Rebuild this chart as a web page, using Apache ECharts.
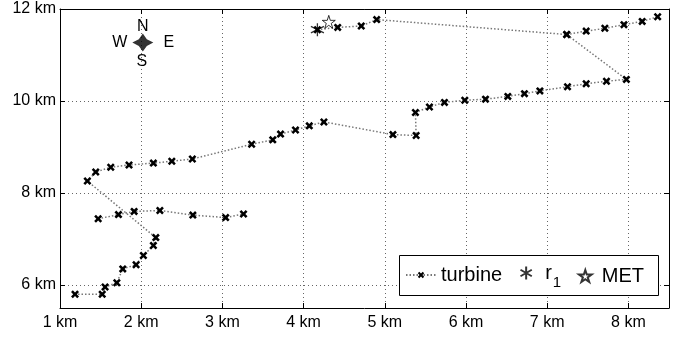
<!DOCTYPE html>
<html>
<head>
<meta charset="utf-8">
<script src="https://cdn.jsdelivr.net/npm/echarts@6/dist/echarts.min.js"></script>
<style>
  html, body { margin: 0; padding: 0; background: #fff; }
  #chart { width: 684px; height: 337px; }
</style>
</head>
<body>
<div id="chart"></div>
<script>
// Turbine strings, [x km, y km], in cabling order
const mainString = [
  [4.17, 11.55], [4.42, 11.60], [4.71, 11.63], [4.90, 11.77],
  [7.24, 11.445], [7.975, 10.47], [7.73, 10.43], [7.48, 10.375],
  [7.25, 10.31], [6.91, 10.22], [6.72, 10.16], [6.515, 10.10],
  [6.24, 10.04], [5.985, 10.015], [5.735, 9.97], [5.55, 9.87],
  [5.377, 9.75], [5.386, 9.25], [5.10, 9.27], [4.25, 9.545],
  [4.07, 9.46], [3.90, 9.37], [3.716, 9.28], [3.62, 9.155],
  [3.36, 9.06], [2.63, 8.74], [2.377, 8.69], [2.15, 8.65],
  [1.85, 8.61], [1.625, 8.56], [1.44, 8.455], [1.337, 8.26],
  [2.18, 7.03], [2.15, 6.86], [2.027, 6.64], [1.937, 6.44],
  [1.773, 6.35], [1.70, 6.05], [1.555, 5.955], [1.52, 5.80],
  [1.185, 5.80]
];
const northEastString = [
  [7.24, 11.445], [7.48, 11.52], [7.71, 11.58], [7.945, 11.66],
  [8.17, 11.73], [8.36, 11.83]
];
const middleString = [
  [1.47, 7.44], [1.72, 7.53], [1.913, 7.60], [2.23, 7.62],
  [2.636, 7.52], [3.04, 7.465], [3.26, 7.545]
];
const r1Point = [[4.17, 11.55]];
const metPoint = [[4.31, 11.72]];
const compassCenter = [2.02, 11.27];

const xTicks = [1, 2, 3, 4, 5, 6, 7, 8];
const yTicks = [6, 8, 10, 12];
const xRange = [1, 8.5];
const yRange = [5.5, 12];

// strings joined into one series, separated by gaps
const turbineData = [...mainString, '-', ...northEastString, '-', ...middleString];

const FONT = 'Liberation Sans, Arial, Helvetica, sans-serif';
const crossPath = 'path://M-1,-0.55L-0.55,-1L0,-0.45L0.55,-1L1,-0.55L0.45,0L1,0.55L0.55,1L0,0.45L-0.55,1L-1,0.55L-0.45,0Z';
const asteriskPath = 'path://M0,-1L0,1M-0.87,-0.5L0.87,0.5M-0.87,0.5L0.87,-0.5';
const starPath = 'path://M0,-1L0.2245,-0.309L0.951,-0.309L0.363,0.118L0.588,0.809L0,0.382L-0.588,0.809L-0.363,0.118L-0.951,-0.309L-0.2245,-0.309Z';

const kmLabel = v => v + ' km';

function mainAxis(pos, range, ticks, showLabels) {
  return {
    type: 'value',
    position: pos,
    min: range[0],
    max: range[1],
    axisLine: { show: true, onZero: false, lineStyle: { color: '#000', width: 1 } },
    axisTick: { show: true, inside: true, length: 5, customValues: ticks, lineStyle: { color: '#000' } },
    axisLabel: {
      show: showLabels, customValues: ticks, formatter: kmLabel,
      color: '#000', fontFamily: FONT, fontSize: 16, margin: pos === 'bottom' ? 7 : 4
    },
    splitLine: showLabels ? { show: true, lineStyle: { color: '#666', width: 1, type: [1, 3] } } : { show: false }
  };
}

// one legend entry, placed inside the shared legend frame
function legendEntry(name, left, top, itemWidth, itemHeight, extra) {
  return Object.assign({
    data: [name], left, top, padding: 0,
    itemWidth, itemHeight, z: 12,
    textStyle: { fontFamily: FONT, fontSize: 20, color: '#000' }
  }, extra || {});
}

const chart = echarts.init(document.getElementById('chart'));
chart.setOption({
  animation: false,
  backgroundColor: '#fff',
  grid: { left: 60, right: 15, top: 9, bottom: 29 },
  xAxis: [mainAxis('bottom', xRange, xTicks, true), mainAxis('top', xRange, xTicks, false)],
  yAxis: [mainAxis('left', yRange, yTicks, true), mainAxis('right', yRange, yTicks, false)],
  legend: [
    legendEntry('turbine', 405, 265, 30, 8),
    legendEntry('r1', 518, 263, 28, 13, {
      formatter: () => '{r|r}{s|1}',
      textStyle: {
        fontFamily: FONT, fontSize: 20, color: '#000',
        rich: {
          r: { fontFamily: FONT, fontSize: 20, color: '#000' },
          s: { fontFamily: FONT, fontSize: 15, color: '#000', padding: [20, 0, 0, 1] }
        }
      }
    }),
    legendEntry('MET', 578, 266, 23, 12)
  ],
  series: [
    {
      name: 'turbine', type: 'line', data: turbineData,
      connectNulls: false,
      symbol: crossPath, symbolSize: 8, showAllSymbol: true,
      itemStyle: { color: '#000' },
      lineStyle: { color: '#777', width: 1.5, type: [1.5, 2] },
      z: 3
    },
    {
      name: 'r1', type: 'scatter', data: r1Point,
      symbol: asteriskPath, symbolSize: 13,
      itemStyle: { color: 'none', borderColor: '#000', borderWidth: 1.3 },
      z: 4
    },
    {
      name: 'MET', type: 'scatter', data: metPoint,
      symbol: starPath, symbolSize: 13,
      itemStyle: { color: '#fff', borderColor: '#000', borderWidth: 1 },
      z: 4
    },
    {
      name: 'compass', type: 'scatter', data: [compassCenter],
      symbol: 'path://M0,-1L0.38,-0.38L1,0L0.38,0.38L0,1L-0.38,0.38L-1,0L-0.38,-0.38Z',
      symbolSize: [21, 18], symbolKeepAspect: false,
      itemStyle: { color: '#000' }, silent: true, z: 4
    }
  ]
});

// legend frame and compass letters around the rose
const c = chart.convertToPixel({ gridIndex: 0 }, compassCenter);
const letter = (t, dx, dy) => ({
  type: 'text', id: 'compass-' + t, x: c[0] + dx, y: c[1] + dy, z: 10,
  style: { text: t, fontFamily: FONT, fontSize: 16, fill: '#000', align: 'center', verticalAlign: 'middle' }
});
chart.setOption({
  graphic: [
    {
      type: 'rect', id: 'legend-frame', z: 10,
      shape: { x: 399.5, y: 255.5, width: 259, height: 40 },
      style: { fill: '#fff', stroke: '#000', lineWidth: 1 }
    },
    letter('N', 0, -16), letter('S', -1, 19), letter('W', -23, 0), letter('E', 26, 0)
  ]
});
</script>
</body>
</html>
